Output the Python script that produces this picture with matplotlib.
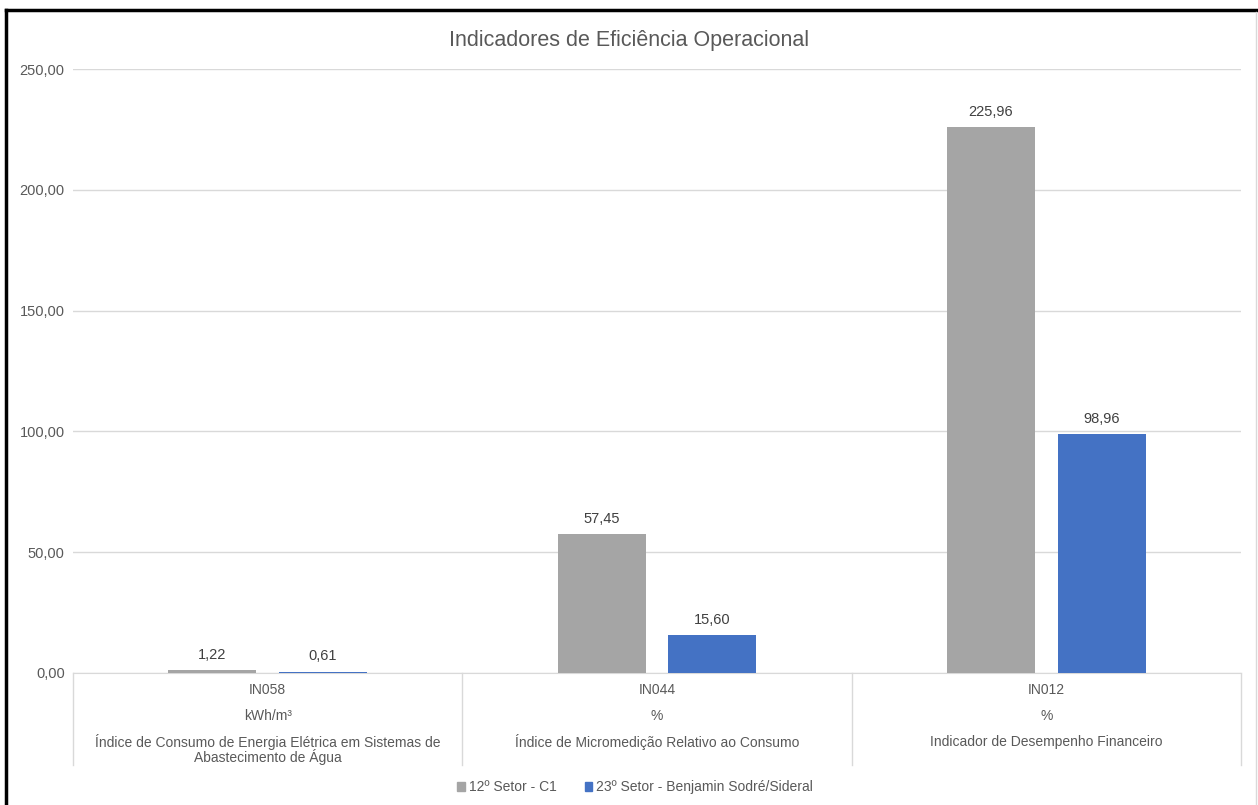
import numpy as np
import matplotlib
matplotlib.use("Agg")
import matplotlib.pyplot as plt
from matplotlib.patches import Patch
from matplotlib.lines import Line2D

plt.rcParams["font.family"] = ["Liberation Sans", "DejaVu Sans"]

# =============================
# DADOS
# =============================
codigos = ["IN058", "IN044", "IN012"]
unidades = ["kWh/m³", "%", "%"]
descricoes = [
    "Índice de Consumo de Energia Elétrica em Sistemas de\nAbastecimento de Água",
    "Índice de Micromedição Relativo ao Consumo",
    "Indicador de Desempenho Financeiro",
]
setor_12 = [1.22, 57.45, 225.96]
setor_23 = [0.61, 15.60, 98.96]
series = ["12º Setor - C1", "23º Setor - Benjamin Sodré/Sideral"]
yticks = [0, 50, 100, 150, 200, 250]

cinza = "#a5a5a5"
azul = "#4472c4"
texto = "#595959"
grade = "#d9d9d9"


def br(v):
    return f"{v:,.2f}".replace(",", "X").replace(".", ",").replace("X", ".")


fig = plt.figure(figsize=(12.58, 8.05), dpi=100)
ax = fig.add_axes([0.058, 0.164, 0.9285, 0.750])

x = np.arange(len(codigos))
larg = 0.226
off = 0.142
b1 = ax.bar(x - off, setor_12, larg, color=cinza, zorder=3)
b2 = ax.bar(x + off, setor_23, larg, color=azul, zorder=3)

for barras, vals in [(b1, setor_12), (b2, setor_23)]:
    for b, v in zip(barras, vals):
        ax.annotate(br(v), (b.get_x() + b.get_width() / 2, v),
                    xytext=(0, 6), textcoords="offset points",
                    ha="center", va="bottom", fontsize=10.5, color="#404040")

ax.set_xlim(-0.5, 2.5)
ax.set_ylim(0, 250)
ax.set_yticks(yticks)
ax.set_yticklabels([br(v) for v in yticks], fontsize=10.5, color=texto)
ax.tick_params(axis="y", length=0, pad=6)
ax.set_xticks([])
ax.grid(axis="y", color=grade, linewidth=1, zorder=0)
for s in ["top", "right", "left"]:
    ax.spines[s].set_visible(False)
ax.spines["bottom"].set_color(grade)

# rotulos das categorias em 3 linhas
tr = ax.get_xaxis_transform()
for i in range(len(codigos)):
    ax.text(i, -0.028, codigos[i], transform=tr, ha="center", va="center",
            fontsize=10, color=texto)
    ax.text(i, -0.071, unidades[i], transform=tr, ha="center", va="center",
            fontsize=10, color=texto)
    for j, linha in enumerate(descricoes[i].split("\n")):
        ax.text(i, -0.114 - 0.025 * j, linha, transform=tr, ha="center",
                va="center", fontsize=10, color=texto)
for xv in [-0.5, 0.5, 1.5, 2.5]:
    ax.add_line(Line2D([xv, xv], [0, -0.152], transform=tr, color=grade,
                       linewidth=1, clip_on=False))

fig.text(0.5, 0.95, "Indicadores de Eficiência Operacional", ha="center",
         va="center", fontsize=15.5, color=texto)

handles = [Patch(color=cinza), Patch(color=azul)]
fig.legend(handles, series, loc="center", bbox_to_anchor=(0.505, 0.022),
           ncol=2, frameon=False, fontsize=10, handlelength=0.55,
           handleheight=0.55, handletextpad=0.3, columnspacing=2.0,
           labelcolor=texto)

# borda (esquerda e topo pretas)
fig.add_artist(Line2D([0.005, 0.005], [0, 0.987], transform=fig.transFigure,
                      color="black", linewidth=2.5))
fig.add_artist(Line2D([0.005, 1], [0.987, 0.987], transform=fig.transFigure,
                      color="black", linewidth=2.5))
fig.add_artist(Line2D([0.9985, 0.9985], [0, 0.985], transform=fig.transFigure,
                      color=grade, linewidth=1))

fig.savefig("out.png", dpi=100)
